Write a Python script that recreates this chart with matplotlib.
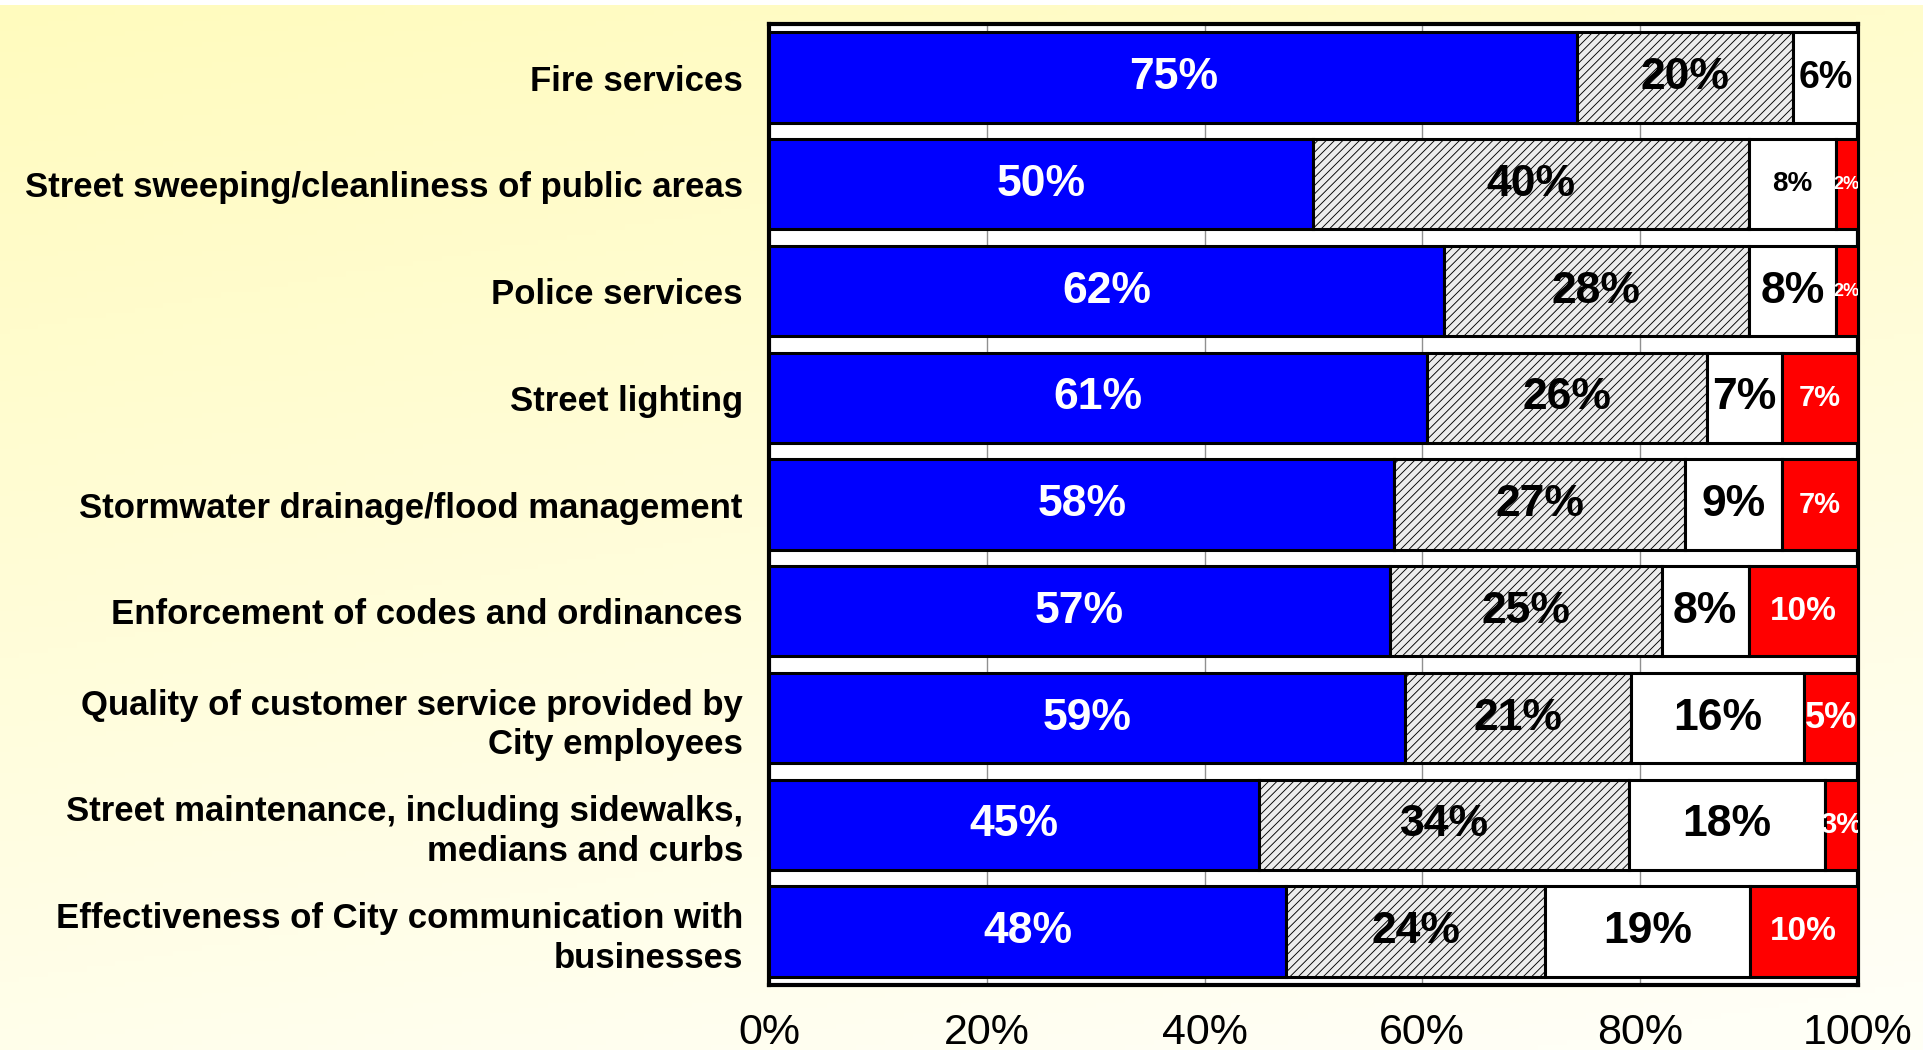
import numpy as np
import matplotlib.pyplot as plt

categories = [
    'Fire services',
    'Street sweeping/cleanliness of public areas',
    'Police services',
    'Street lighting',
    'Stormwater drainage/flood management',
    'Enforcement of codes and ordinances',
    'Quality of customer service provided by\nCity employees',
    'Street maintenance, including sidewalks,\nmedians and curbs',
    'Effectiveness of City communication with\nbusinesses',
]
very_satisfied = [75, 50, 62, 61, 58, 57, 59, 45, 48]
satisfied = [20, 40, 28, 26, 27, 25, 21, 34, 24]
dissatisfied = [6, 8, 8, 7, 9, 8, 16, 18, 19]
very_dissatisfied = [0, 2, 2, 7, 7, 10, 5, 3, 10]
tick_labels = ['0%', '20%', '40%', '60%', '80%', '100%']

series = [very_satisfied, satisfied, dissatisfied, very_dissatisfied]
face = ['#0000ff', '#ececec', '#ffffff', '#ff0000']
hatches = [None, '////', None, None]
text_col = ['white', 'black', 'black', 'white']

# smaller labels where a segment is narrow
label_size = {(0, 2): 27, (1, 2): 20, (1, 3): 13, (2, 3): 13, (3, 3): 21,
              (4, 3): 21, (5, 3): 24, (6, 3): 26, (7, 3): 21, (8, 3): 24}

plt.rcParams['font.family'] = 'Liberation Sans'
plt.rcParams['hatch.color'] = '#44445e'
plt.rcParams['hatch.linewidth'] = 0.65

fig = plt.figure(figsize=(19.23, 10.5), dpi=100)

# soft yellow backdrop fading to white towards the bottom right
bg = fig.add_axes([0, 0, 1, 0.995], zorder=-5)
yy, xx = np.mgrid[0:1:200j, 0:1:200j]
t = np.clip(0.8 * yy + 0.25 * xx, 0, 1)
top = np.array([255, 251, 190]) / 255
bot = np.array([255, 255, 246]) / 255
img = top[None, None, :] * (1 - t[..., None]) + bot[None, None, :] * t[..., None]
bg.imshow(img, aspect='auto', extent=[0, 1, 0, 1], origin='upper')
bg.axis('off')

ax = fig.add_axes([0.4, 0.062, 0.566, 0.915])
ax.set_facecolor('white')

totals = np.sum(series, axis=0)
y = np.arange(len(categories))
left = np.zeros(len(categories))
for k, vals in enumerate(series):
    vals = np.array(vals, dtype=float)
    w = vals / totals * 100
    ax.barh(y, w, left=left, height=0.845, color=face[k], hatch=hatches[k],
            edgecolor='black', linewidth=2.2, zorder=3)
    for i in range(len(categories)):
        if vals[i] == 0:
            continue
        ax.text(left[i] + w[i] / 2, y[i], f'{int(vals[i])}%', ha='center', va='center',
                color=text_col[k], fontsize=label_size.get((i, k), 32),
                fontweight='bold', zorder=5, clip_on=True)
    left += w

ax.set_xlim(0, 100)
ax.set_ylim(len(categories) - 0.5, -0.5)
ax.set_xticks(np.arange(0, 101, 20))
ax.set_xticklabels(tick_labels, fontsize=31)
ax.set_yticks(y)
ax.set_yticklabels(categories, fontsize=25, fontweight='bold', linespacing=1.25)
ax.tick_params(axis='both', length=0)
ax.tick_params(axis='x', pad=20)
ax.tick_params(axis='y', pad=19)
ax.grid(axis='x', color='#909090', linewidth=1, zorder=0)
ax.set_axisbelow(True)
for s in ax.spines.values():
    s.set_linewidth(3)
    s.set_color('black')

fig.savefig('out.png', dpi=100)
